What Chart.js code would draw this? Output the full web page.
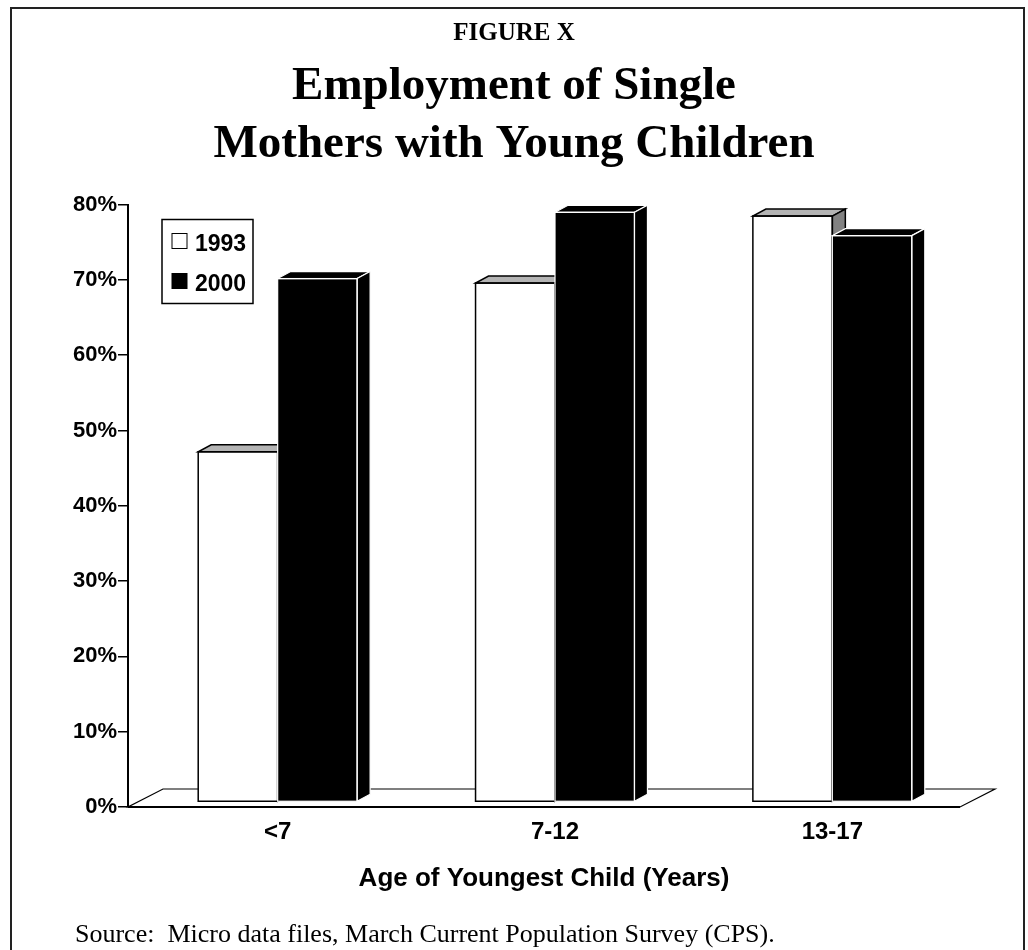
<!DOCTYPE html>
<html>
<head>
<meta charset="utf-8">
<title>Employment of Single Mothers with Young Children</title>
<script src="https://cdn.jsdelivr.net/npm/chart.js@4.4.0/dist/chart.umd.min.js"></script>
<style>
  html, body { margin: 0; padding: 0; background: #fff; }
  #wrap { position: relative; width: 1028px; height: 950px; }
</style>
</head>
<body>
<div id="wrap"><canvas id="employment-chart" width="1028" height="950"></canvas></div>
<script>
// data (percent employed)
const ageGroups = ['<7', '7-12', '13-17'];
const seriesYears = ['1993', '2000'];
const emp1993 = [46.5, 68.9, 77.8];
const emp2000 = [69.5, 78.3, 75.2];
const yTickValues = [0, 10, 20, 30, 40, 50, 60, 70, 80];

var SERIF = '"Times New Roman", "Liberation Serif", serif';
var SANS = 'Arial, "Liberation Sans", Helvetica, sans-serif';

// 3d look: bars sit a bit behind the floor front, and have some depth
var FACE = { dx: 11, dy: -5 };
var DEPTH = { dx: 13, dy: -7 };
var FLOOR = { dx: 35, dy: -18 };

var fills = ['#ffffff', '#000000'];
var tops = ['#b4b4b4', '#000000'];
var sides = ['#828282', '#000000'];
var edges = ['#000000', '#ffffff'];

function drawBox(ctx, bar, i) {
    var l = bar.x - bar.width / 2, r = bar.x + bar.width / 2;
    var t = bar.y, b = bar.base;
    ctx.lineJoin = 'miter';
    ctx.lineWidth = i === 0 ? 1.5 : 1.2;
    ctx.strokeStyle = edges[i];

    // front
    ctx.fillStyle = fills[i];
    ctx.fillRect(l, t, r - l, b - t);

    // top
    ctx.beginPath();
    ctx.moveTo(l, t);
    ctx.lineTo(r, t);
    ctx.lineTo(r + DEPTH.dx, t + DEPTH.dy);
    ctx.lineTo(l + DEPTH.dx, t + DEPTH.dy);
    ctx.closePath();
    ctx.fillStyle = tops[i];
    ctx.fill();
    ctx.stroke();

    // side
    ctx.beginPath();
    ctx.moveTo(r, t);
    ctx.lineTo(r + DEPTH.dx, t + DEPTH.dy);
    ctx.lineTo(r + DEPTH.dx, b + DEPTH.dy);
    ctx.lineTo(r, b);
    ctx.closePath();
    ctx.fillStyle = sides[i];
    ctx.fill();
    ctx.stroke();

    ctx.strokeRect(l, t, r - l, b - t);
}

var box3d = {
    id: 'box3d',
    beforeDatasetsDraw: function(chart) {
        var ctx = chart.ctx, a = chart.chartArea;
        // floor
        ctx.save();
        ctx.beginPath();
        ctx.moveTo(a.left, a.bottom);
        ctx.lineTo(a.right, a.bottom);
        ctx.lineTo(a.right + FLOOR.dx, a.bottom + FLOOR.dy);
        ctx.lineTo(a.left + FLOOR.dx, a.bottom + FLOOR.dy);
        ctx.closePath();
        ctx.fillStyle = '#fff';
        ctx.fill();
        ctx.lineWidth = 1.2;
        ctx.strokeStyle = '#000';
        ctx.stroke();
        ctx.beginPath();
        ctx.moveTo(a.left, a.bottom);
        ctx.lineTo(a.right, a.bottom);
        ctx.lineWidth = 2;
        ctx.stroke();
        ctx.restore();

        ctx.save();
        ctx.translate(FACE.dx, FACE.dy);
    },
    afterDatasetsDraw: function(chart) {
        var ctx = chart.ctx;
        var metas = chart.data.datasets.map(function(ds, i) { return chart.getDatasetMeta(i); });
        // paint each group left to right so side faces hide correctly
        for (var c = 0; c < chart.data.labels.length; c++) {
            metas.forEach(function(meta, i) {
                drawBox(ctx, meta.data[c], i);
            });
        }
        ctx.restore();
    }
};

var extras = {
    id: 'extras',
    afterDraw: function(chart) {
        var ctx = chart.ctx, a = chart.chartArea;
        ctx.save();

        // legend box
        var lx = a.left + 34, ly = a.top + 15;
        ctx.fillStyle = '#fff';
        ctx.fillRect(lx, ly, 91, 84);
        ctx.lineWidth = 1.5;
        ctx.strokeStyle = '#000';
        ctx.strokeRect(lx, ly, 91, 84);
        chart.data.datasets.forEach(function(ds, i) {
            var cy = ly + 22 + i * 40;
            ctx.fillStyle = ds.backgroundColor;
            ctx.fillRect(lx + 10, cy - 8, 15, 15);
            ctx.lineWidth = 1;
            ctx.strokeStyle = '#000';
            ctx.strokeRect(lx + 10, cy - 8, 15, 15);
            ctx.fillStyle = '#000';
            ctx.font = 'bold 23px ' + SANS;
            ctx.textAlign = 'left';
            ctx.textBaseline = 'alphabetic';
            ctx.fillText(ds.label, lx + 33, cy + 9);
        });

        // frame
        ctx.lineWidth = 2;
        ctx.strokeStyle = '#222';
        ctx.strokeRect(11, 8, 1013, 970);

        ctx.fillStyle = '#000';
        ctx.font = 'bold 25px ' + SERIF;
        ctx.textAlign = 'center';
        ctx.fillText('FIGURE X', chart.width / 2, 40);

        ctx.font = '26px ' + SERIF;
        ctx.textAlign = 'left';
        ctx.fillText('Source:  Micro data files, March Current Population Survey (CPS).', 75, 942);
        ctx.restore();
    }
};

Chart.defaults.color = '#000';

var ctx = document.getElementById('employment-chart').getContext('2d');
var myChart = new Chart(ctx, {
    type: 'bar',
    data: {
        labels: ageGroups,
        datasets: [{
            label: seriesYears[0],
            data: emp1993,
            backgroundColor: fills[0],
            borderColor: edges[0],
            borderWidth: 1.5,
            clip: false
        }, {
            label: seriesYears[1],
            data: emp2000,
            backgroundColor: fills[1],
            borderColor: edges[1],
            borderWidth: 1.2,
            clip: false
        }]
    },
    options: {
        responsive: false,
        animation: false,
        devicePixelRatio: 1,
        barPercentage: 1,
        categoryPercentage: 0.573,
        layout: {
            padding: { top: 46, left: 68, right: 68, bottom: 56 }
        },
        plugins: {
            legend: { display: false },
            tooltip: { enabled: false },
            title: {
                display: true,
                text: ['Employment of Single', 'Mothers with Young Children'],
                font: { family: SERIF, size: 47, weight: 'bold', lineHeight: 1.25 },
                color: '#000',
                padding: { top: 11, bottom: 30 }
            }
        },
        scales: {
            x: {
                grid: { display: false, drawTicks: false },
                border: { display: false },
                ticks: {
                    font: { family: SANS, size: 24, weight: 'bold' },
                    padding: 11,
                    labelOffset: 11
                },
                title: {
                    display: true,
                    text: 'Age of Youngest Child (Years)',
                    font: { family: SANS, size: 26, weight: 'bold' },
                    padding: { top: 5, bottom: 0 }
                }
            },
            y: {
                min: 0,
                max: 80,
                afterFit: function(scale) { scale.width = 60; },
                afterBuildTicks: function(scale) {
                    scale.ticks = yTickValues.map(function(v) { return { value: v }; });
                },
                grid: {
                    drawOnChartArea: false,
                    drawTicks: true,
                    tickLength: 10,
                    color: '#000',
                    lineWidth: 1.5
                },
                border: { display: true, color: '#000', width: 2 },
                ticks: {
                    font: { family: SANS, size: 22, weight: 'bold' },
                    padding: 1,
                    callback: function(v) { return v + '%'; }
                }
            }
        }
    },
    plugins: [box3d, extras]
});
</script>
</body>
</html>
